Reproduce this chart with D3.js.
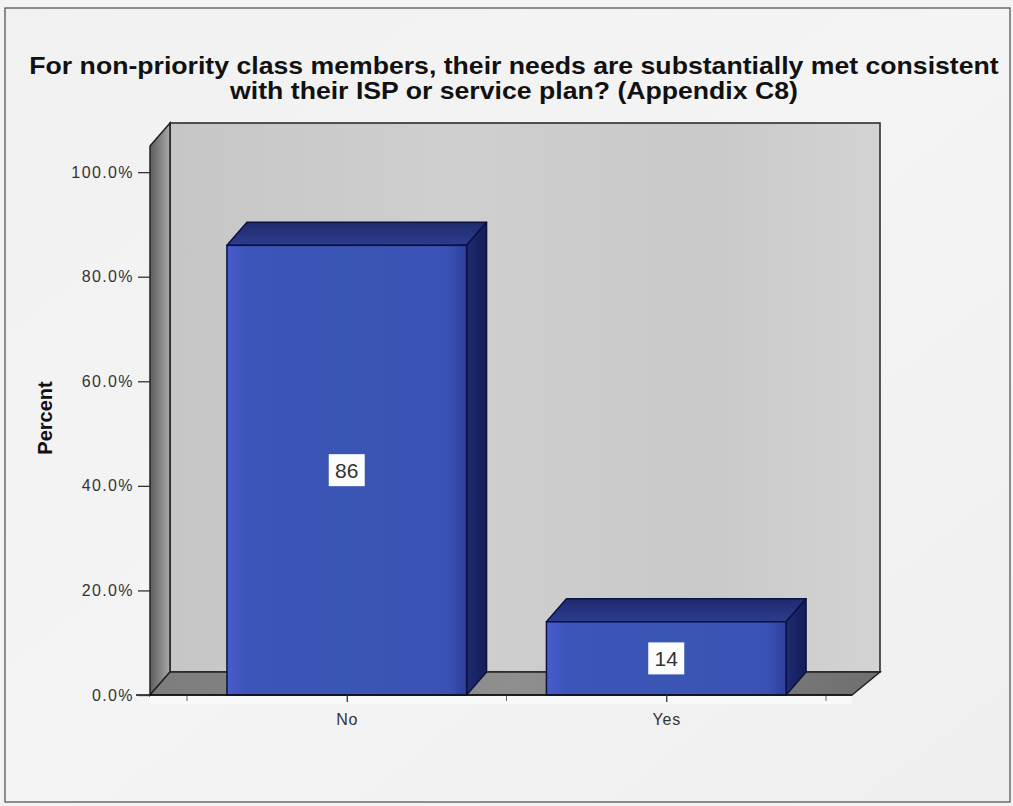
<!DOCTYPE html>
<html>
<head>
<meta charset="utf-8">
<script src="https://cdn.jsdelivr.net/npm/d3@7"></script>
<style>
  html, body { margin: 0; padding: 0; background: #f3f3f3; }
  svg { display: block; }
</style>
</head>
<body>
<svg id="chart" width="1013" height="806"></svg>
<script>
// Survey answers and their percentages
const categories = ["No", "Yes"];
const percents = [86, 14];
const yTicks = [0, 20, 40, 60, 80, 100];
const titleLines = [
  "For non-priority class members, their needs are substantially met consistent",
  "with their ISP or service plan? (Appendix C8)"
];
const yTitle = "Percent";

const svg = d3.select("#chart");
const W = 1013, H = 806;
const FONT = "Liberation Sans, Arial, sans-serif";

// 3D box geometry (front plane and depth offset)
const frontLeft = 150, frontRight = 852, floorY = 695;
const DX = 20, DY = -23;

const y = d3.scaleLinear().domain([0, 105]).range([floorY, 146]);
const x = d3.scaleBand().domain(categories).range([187, 826])
  .paddingInner(0.25).paddingOuter(0.125);

const defs = svg.append("defs");
function linGrad(id, x2, y2, stops) {
  const g = defs.append("linearGradient").attr("id", id)
    .attr("x1", 0).attr("y1", 0).attr("x2", x2).attr("y2", y2);
  stops.forEach(([o, c]) => g.append("stop").attr("offset", o).attr("stop-color", c));
}
linGrad("bg", 1, 1, [[0, "#f1f1f1"], [0.5, "#f4f4f4"], [1, "#efefef"]]);
linGrad("wall", 1, 0, [[0, "#c6c6c6"], [0.4, "#cfcfcf"], [0.75, "#c9c9c9"], [1, "#d3d3d3"]]);
linGrad("side", 1, 0, [[0, "#5e5e5e"], [1, "#a7a7a7"]]);
linGrad("floor", 1, 0, [[0, "#7d7d7d"], [0.5, "#8f8f8f"], [1, "#6f6f6f"]]);
linGrad("barFront", 1, 0, [[0, "#4b5bcc"], [0.08, "#3c55b9"], [0.5, "#3a56b4"], [0.92, "#3a52b6"], [1, "#2f3f9c"]]);
linGrad("barTop", 0, 1, [[0, "#1f2b6e"], [1, "#2d3c8e"]]);
linGrad("barSide", 1, 0, [[0, "#1f2a72"], [1, "#141d58"]]);

// Outer frame
svg.append("rect").attr("x", 5).attr("y", 8).attr("width", W - 8).attr("height", H - 12)
  .attr("fill", "url(#bg)").attr("stroke", "#4a4a4a").attr("stroke-width", 1.2);

// Title, fitted to the frame width
const titleG = svg.append("g").attr("font-family", FONT)
  .attr("font-weight", "bold").attr("font-size", 23).attr("fill", "#111");
const tl = titleG.selectAll("text").data(titleLines).join("text")
  .attr("text-anchor", "middle").attr("y", (d, i) => 74 + i * 25)
  .text(d => d);
const w0 = tl.nodes()[0].getComputedTextLength();
const sx = 970 / w0;
tl.attr("transform", `translate(514,0) scale(${sx},1)`);

const pts = a => a.map(p => p.join(",")).join(" ");
const topY = y(105);

// Back wall
svg.append("polygon")
  .attr("points", pts([[frontLeft + DX, topY + DY], [frontRight + DX + 8, topY + DY],
                       [frontRight + DX + 8, floorY + DY], [frontLeft + DX, floorY + DY]]))
  .attr("fill", "url(#wall)").attr("stroke", "#222").attr("stroke-width", 1.5);

// Left side wall
svg.append("polygon")
  .attr("points", pts([[frontLeft, topY], [frontLeft + DX, topY + DY],
                       [frontLeft + DX, floorY + DY], [frontLeft, floorY]]))
  .attr("fill", "url(#side)").attr("stroke", "#222").attr("stroke-width", 1.5);

// Floor
svg.append("polygon")
  .attr("points", pts([[frontLeft, floorY], [frontLeft + DX, floorY + DY],
                       [frontRight + DX + 8, floorY + DY], [frontRight, floorY]]))
  .attr("fill", "url(#floor)").attr("stroke", "#222").attr("stroke-width", 1.5);

// Light strip under the floor edge
svg.append("rect").attr("x", frontLeft).attr("y", floorY + 1).attr("width", frontRight - frontLeft)
  .attr("height", 8).attr("fill", "#f8fafa");

// Bars: top face, right face, front face
const barData = categories.map((c, i) => ({ c, v: percents[i] }));
const bars = svg.append("g").selectAll("g").data(barData).join("g");
bars.append("polygon").attr("class", "top")
  .attr("points", d => {
    const x0 = x(d.c), x1 = x(d.c) + x.bandwidth(), yt = y(d.v);
    return pts([[x0, yt], [x0 + DX, yt + DY], [x1 + DX, yt + DY], [x1, yt]]);
  })
  .attr("fill", "url(#barTop)").attr("stroke", "#0b1242").attr("stroke-width", 1.5)
  .attr("stroke-linejoin", "round");
bars.append("polygon").attr("class", "side")
  .attr("points", d => {
    const x1 = x(d.c) + x.bandwidth(), yt = y(d.v);
    return pts([[x1, yt], [x1 + DX, yt + DY], [x1 + DX, floorY + DY], [x1, floorY]]);
  })
  .attr("fill", "url(#barSide)").attr("stroke", "#0b1242").attr("stroke-width", 1.5)
  .attr("stroke-linejoin", "round");
bars.append("rect").attr("class", "front")
  .attr("x", d => x(d.c)).attr("y", d => y(d.v))
  .attr("width", x.bandwidth()).attr("height", d => floorY - y(d.v))
  .attr("fill", "url(#barFront)").attr("stroke", "#0b1242").attr("stroke-width", 1.5);

// Value labels
const lab = svg.append("g").selectAll("g").data(barData).join("g")
  .attr("transform", d => `translate(${x(d.c) + x.bandwidth() / 2},${y(d.v / 2)})`);
lab.append("rect").attr("x", -18).attr("y", -16).attr("width", 36).attr("height", 32)
  .attr("fill", "#fbfdfd");
lab.append("text").attr("text-anchor", "middle").attr("dy", "0.36em")
  .attr("font-family", FONT).attr("font-size", 21)
  .attr("fill", "#333").text(d => d.v);

// Front axis line
svg.append("line").attr("x1", frontLeft - 14).attr("x2", frontRight).attr("y1", floorY).attr("y2", floorY)
  .attr("stroke", "#111").attr("stroke-width", 1.5);

// Y axis
const yAxis = svg.append("g").attr("transform", `translate(${frontLeft},0)`)
  .call(d3.axisLeft(y).tickValues(yTicks).tickSize(12).tickSizeOuter(0)
    .tickFormat(d => d.toFixed(1) + "%"));
yAxis.select(".domain").remove();
yAxis.selectAll(".tick line").attr("stroke", "#333").attr("stroke-width", 1.3);
yAxis.selectAll(".tick text").attr("font-family", FONT)
  .attr("font-size", 16).attr("fill", "#333").attr("letter-spacing", 1.4).attr("x", -16);

// X axis
const xAxis = svg.append("g").attr("transform", `translate(0,${floorY})`)
  .call(d3.axisBottom(d3.scalePoint().domain(categories)
      .range([x(categories[0]) + x.bandwidth() / 2, x(categories[1]) + x.bandwidth() / 2]))
    .tickSize(7).tickSizeOuter(0));
xAxis.select(".domain").remove();
xAxis.selectAll(".tick line").attr("stroke", "#333").attr("stroke-width", 1.3);
xAxis.selectAll(".tick text").attr("font-family", FONT)
  .attr("font-size", 16).attr("fill", "#333").attr("letter-spacing", 0.8).attr("dy", "1.25em");

// Minor ticks at category boundaries
const step = x.step();
const bounds = [x(categories[0]) - step * x.paddingInner() / 2,
  x(categories[1]) - step * x.paddingInner() / 2,
  x(categories[1]) + x.bandwidth() + step * x.paddingInner() / 2];
svg.append("g").selectAll("line").data(bounds).join("line")
  .attr("x1", d => d).attr("x2", d => d).attr("y1", floorY + 1).attr("y2", floorY + 6)
  .attr("stroke", "#666").attr("stroke-width", 1);

// Y axis title
svg.append("text").attr("transform", "translate(52,418) rotate(-90)")
  .attr("text-anchor", "middle").attr("font-family", FONT)
  .attr("font-weight", "bold").attr("font-size", 20).attr("fill", "#111").text(yTitle);
</script>
</body>
</html>
